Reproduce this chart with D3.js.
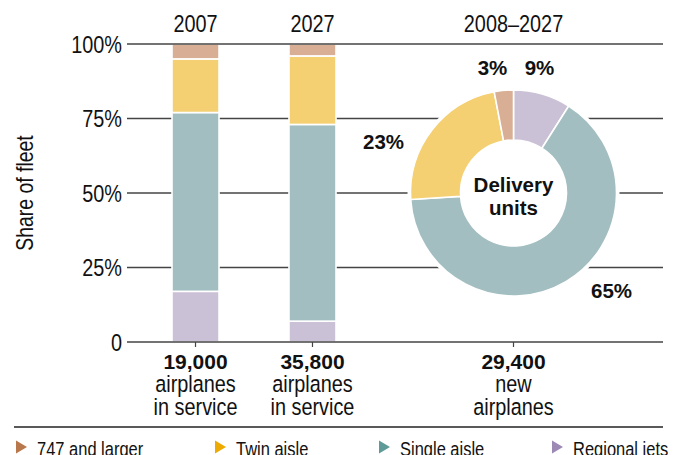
<!DOCTYPE html>
<html>
<head>
<script src="https://cdn.jsdelivr.net/npm/d3@7"></script>
<meta charset="utf-8">
<style>
body { margin: 0; background: #fff; }
text { font-family: "Liberation Sans", Arial, Helvetica, sans-serif; fill: #111; }
.bold { font-weight: bold; }
</style>
</head>
<body>
<div class="chart"></div>
<script>

// data
var years = ["2007", "2027"];
var keys = ["regional", "single", "twin", "large"];   // bottom to top
var large = [5, 4];
var twin = [18, 23];
var single = [60, 66];
var regional = [17, 7];

var deliveryKeys = ["regional", "single", "twin", "large"]; // clockwise from top
var delivery = [9, 65, 23, 3];

var yTicks = [0, 25, 50, 75, 100];
var barTotals = ["19,000", "35,800"];
var newTotal = "29,400";
var legendNames = ["747 and larger", "Twin aisle", "Single aisle", "Regional jets"];
var legendKeys = ["large", "twin", "single", "regional"];

var fill = { large: "#d8ae94", twin: "#f4d073", single: "#a3bec0", regional: "#cbc1d6" };
var marker = { large: "#b8784c", twin: "#eeaa00", single: "#5e9b98", regional: "#9d8ab4" };

var width = 677, height = 455;
var squeeze = 0.845;   // the original type is a condensed face

function place(px, py) {
  return "translate(" + px + "," + py + ") scale(" + squeeze + ",1)";
}

var svg = d3.select(".chart").append("svg")
  .attr("width", width)
  .attr("height", height);

var y = d3.scaleLinear().domain([0, 100]).range([342, 44]);
var x = d3.scaleBand().domain(years).range([172, 336]).paddingInner(0.598);
var mid = function(d) { return x(d) + x.bandwidth() / 2; };

var gridLeft = 127, gridRight = 663;
var cx = 513.5, cy = y(50);

// inner gridlines (behind bars and donut)
svg.selectAll(".grid")
  .data(yTicks.filter(function(d) { return d > 0 && d < 100; }))
  .enter().append("line")
  .attr("x1", gridLeft).attr("x2", gridRight)
  .attr("y1", y).attr("y2", y)
  .attr("stroke", "#444").attr("stroke-width", 1.3);

// stacked bars
var rows = years.map(function(yr, i) {
  return { year: yr, large: large[i], twin: twin[i], single: single[i], regional: regional[i] };
});
var stacked = d3.stack().keys(keys)(rows);

svg.selectAll(".layer")
  .data(stacked)
  .enter().append("g")
  .attr("fill", function(d) { return fill[d.key]; })
  .selectAll("rect")
  .data(function(d) { return d; })
  .enter().append("rect")
  .attr("x", function(d) { return x(d.data.year); })
  .attr("width", x.bandwidth())
  .attr("y", function(d) { return y(d[1]); })
  .attr("height", function(d) { return y(d[0]) - y(d[1]); })
  .attr("stroke", "#fff").attr("stroke-width", 1.6);

// top and bottom lines over bars
svg.selectAll(".edge")
  .data([0, 100])
  .enter().append("line")
  .attr("x1", gridLeft).attr("x2", gridRight)
  .attr("y1", y).attr("y2", y)
  .attr("stroke", "#444").attr("stroke-width", 1.4);

// small ticks under the baseline
svg.selectAll(".tick")
  .data(years.map(mid).concat([cx]))
  .enter().append("line")
  .attr("x1", function(d) { return d; }).attr("x2", function(d) { return d; })
  .attr("y1", y(0)).attr("y2", y(0) + 5)
  .attr("stroke", "#444").attr("stroke-width", 1.2);

// y axis labels
svg.selectAll(".ylab")
  .data(yTicks)
  .enter().append("text")
  .attr("transform", function(d) { return place(122, y(d) + 8.5); })
  .attr("text-anchor", "end")
  .style("font-size", "23.5px")
  .text(function(d) { return d === 0 ? "0" : d + "%"; });

svg.append("text")
  .attr("transform", "translate(33," + y(50) + ") rotate(-90) scale(" + squeeze + ",1)")
  .attr("text-anchor", "middle")
  .style("font-size", "23px")
  .text("Share of fleet");

// column headers
svg.selectAll(".year")
  .data(years)
  .enter().append("text")
  .attr("transform", function(d) { return place(mid(d), 32); })
  .attr("text-anchor", "middle")
  .style("font-size", "23.5px")
  .text(function(d) { return d; });

svg.append("text")
  .attr("transform", place(cx, 32))
  .attr("text-anchor", "middle")
  .style("font-size", "23.5px")
  .text("2008\u20132027");

// donut
var pie = d3.pie().sort(null).value(function(d) { return d; });
var arc = d3.arc().innerRadius(53).outerRadius(103);
var donut = svg.append("g").attr("transform", "translate(" + cx + "," + cy + ")");

donut.append("circle").attr("r", 106).attr("fill", "#fff");
donut.selectAll("path")
  .data(pie(delivery))
  .enter().append("path")
  .attr("d", arc)
  .attr("fill", function(d, i) { return fill[deliveryKeys[i]]; })
  .attr("stroke", "#fff").attr("stroke-width", 1.6);

// percentage labels placed around the ring
var labelOffset = [[26, -126], [98, 97], [-130, -52], [-21, -126]];
donut.selectAll(".pct")
  .data(delivery)
  .enter().append("text")
  .attr("class", "bold")
  .attr("x", function(d, i) { return labelOffset[i][0]; })
  .attr("y", function(d, i) { return labelOffset[i][1] + 7.5; })
  .attr("text-anchor", "middle")
  .style("font-size", "20.5px")
  .text(function(d) { return d + "%"; });

donut.selectAll(".centre")
  .data(["Delivery", "units"])
  .enter().append("text")
  .attr("class", "bold")
  .attr("y", function(d, i) { return -1 + i * 23; })
  .attr("text-anchor", "middle")
  .style("font-size", "20.5px")
  .text(function(d) { return d; });

// bottom captions
var captions = years.map(function(yr, i) {
  return { x: mid(yr), lines: [barTotals[i], "airplanes", "in service"] };
});
captions.push({ x: cx, lines: [newTotal, "new", "airplanes"] });

svg.selectAll(".cap")
  .data(captions)
  .enter().append("g")
  .selectAll("text")
  .data(function(d) { return d.lines.map(function(l) { return { x: d.x, t: l }; }); })
  .enter().append("text")
  .attr("class", function(d, i) { return i === 0 ? "bold" : null; })
  .attr("transform", function(d, i) {
    return i === 0 ? "translate(" + d.x + ",369)" : place(d.x, 369 + i * 23);
  })
  .attr("text-anchor", "middle")
  .style("font-size", function(d, i) { return i === 0 ? "21px" : "23.5px"; })
  .text(function(d) { return d.t; });

// separator
svg.append("line")
  .attr("x1", 14).attr("x2", gridRight)
  .attr("y1", 427).attr("y2", 427)
  .attr("stroke", "#222").attr("stroke-width", 1.6);

// legend
var legendX = [16, 215, 379, 552];
var leg = svg.selectAll(".legend")
  .data(legendKeys)
  .enter().append("g")
  .attr("transform", function(d, i) { return "translate(" + legendX[i] + ",447)"; });

leg.append("path")
  .attr("d", "M0,-6.5L11,0L0,6.5Z")
  .attr("fill", function(d) { return marker[d]; });

leg.append("text")
  .attr("transform", place(21, 8.5))
  .style("font-size", "19.5px")
  .text(function(d, i) { return legendNames[i]; });

</script>
</body>
</html>
